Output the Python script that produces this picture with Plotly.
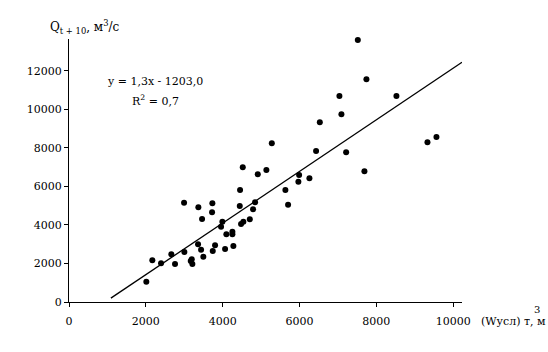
import plotly.graph_objects as go

# Data
w_usl = [2013, 2169, 2396, 2664, 2760, 3003, 2995, 3169, 3195, 3211,
         3367, 3359, 3438, 3464, 3497, 3732, 3724, 3802, 3742, 3958,
         3992, 4063, 4096, 4253, 4253, 4279, 4479, 4453, 4445, 4539,
         4523, 4706, 4792, 4844, 4914, 5138, 5279, 5633, 5703, 5971,
         5990, 6258, 6432, 6529, 7039, 7091, 7214, 7518, 7690, 7742,
         8523, 9331, 9565]
q_t10 = [1055, 2166, 2010, 2478, 1974, 2597, 5158, 2130, 2218, 1974,
         4919, 2997, 2717, 4312, 2353, 5127, 4660, 2945, 2649, 3912,
         4171, 2753, 3517, 3652, 3517, 2909, 4052, 5818, 4987, 4171,
         6997, 4296, 4816, 5179, 6634, 6857, 8244, 5818, 5055, 6249,
         6597, 6426, 7844, 9335, 10701, 9751, 7777, 13610, 6790, 11569,
         10701, 8296, 8571]

trend_x = [1090, 10230]
slope = 1.34
intercept = -1260
trend_y = [slope * v + intercept for v in trend_x]

x_ticks = [0, 2000, 4000, 6000, 8000, 10000]
y_ticks = [0, 2000, 4000, 6000, 8000, 10000, 12000]

FONT = "DejaVu Serif"
W, H = 548, 352
ML, MR, MT, MB = 69, 86, 39, 50

fig = go.Figure()
fig.add_trace(go.Scatter(x=trend_x, y=trend_y, mode="lines",
                         line=dict(color="black", width=1.3),
                         showlegend=False, hoverinfo="skip"))
fig.add_trace(go.Scatter(x=w_usl, y=q_t10, mode="markers",
                         marker=dict(color="black", size=6, symbol="circle"),
                         cliponaxis=False, showlegend=False))

fig.update_layout(
    width=W, height=H,
    margin=dict(l=ML, r=MR, t=MT, b=MB),
    paper_bgcolor="white", plot_bgcolor="white",
    font=dict(family=FONT, size=11, color="black"),
    xaxis=dict(range=[0, 10230], tickvals=x_ticks, ticktext=[str(v) for v in x_ticks],
               showgrid=False, zeroline=False, showline=True, linecolor="black",
               linewidth=1, ticks="outside", ticklen=4, tickcolor="black",
               ticklabelstandoff=5),
    yaxis=dict(range=[0, 13660], tickvals=y_ticks, ticktext=[str(v) for v in y_ticks],
               showgrid=False, zeroline=False, showline=True, linecolor="black",
               linewidth=1, ticks="outside", ticklen=4, tickcolor="black"),
)

PW = W - ML - MR
PH = H - MT - MB

def px_x(p):
    return (p - ML) / PW

def px_y(p):
    return (H - MB - p) / PH

ann = [
    dict(text="Q<sub>t + 10</sub>, м<sup>3</sup>/с", x=px_x(48), y=px_y(27),
         xanchor="left", yanchor="middle", font=dict(size=12)),
    dict(text="y = 1,3x - 1203,0", x=px_x(155), y=px_y(82),
         xanchor="center", yanchor="middle", font=dict(size=11)),
    dict(text="R<sup>2</sup> = 0,7", x=px_x(155), y=px_y(100),
         xanchor="center", yanchor="middle", font=dict(size=11)),
    dict(text="(Wусл) т, м", x=px_x(479), y=px_y(321),
         xanchor="left", yanchor="middle", font=dict(size=11)),
    dict(text="3", x=px_x(537), y=px_y(309),
         xanchor="center", yanchor="middle", font=dict(size=10)),
]
for a in ann:
    a.update(xref="paper", yref="paper", showarrow=False)
    fig.add_annotation(**a)

fig.write_html("out.html")
